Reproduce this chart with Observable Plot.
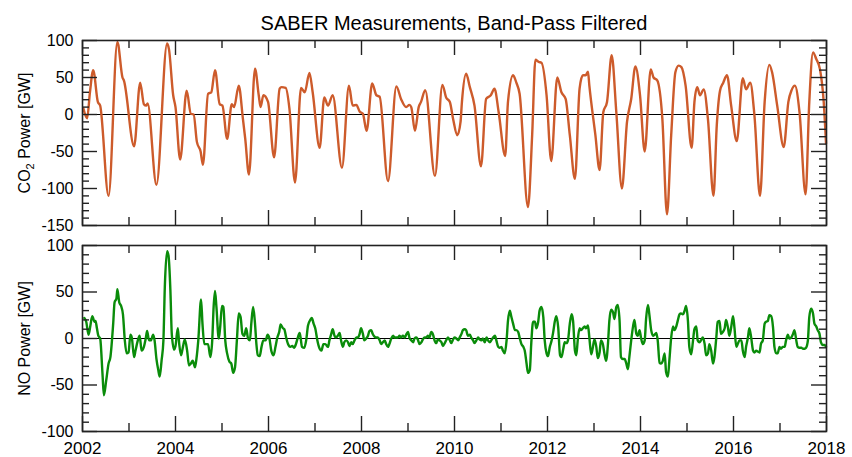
<!DOCTYPE html>
<html><head><meta charset="utf-8">
<script src="https://cdn.jsdelivr.net/npm/d3@7"></script>
<script src="https://cdn.jsdelivr.net/npm/@observablehq/plot@0.6"></script>
<style>
body{margin:0;background:#fff;font-family:"Liberation Sans",Arial,sans-serif;}
#wrap{position:relative;width:852px;height:457px;overflow:hidden;}
#title{position:absolute;left:82px;width:744px;top:13px;line-height:20px;text-align:center;font-size:20px;color:#000;}
#top{position:absolute;left:0;top:0;}
#bot{position:absolute;left:0;top:235px;}
</style></head>
<body><div id="wrap"><div id="top"></div><div id="bot"></div><div id="title">SABER Measurements, Band-Pass Filtered</div></div>
<script>
const co2Year = [2002.02,2002.10,2002.16,2002.23,2002.33,2002.38,2002.56,2002.75,2002.86,2002.89,2003.11,2003.24,2003.32,2003.37,2003.40,2003.59,2003.82,2003.86,2003.95,2004.00,2004.10,2004.24,2004.33,2004.39,2004.46,2004.54,2004.59,2004.70,2004.77,2004.85,2004.95,2005.01,2005.11,2005.21,2005.26,2005.36,2005.45,2005.50,2005.58,2005.71,2005.79,2005.83,2005.89,2005.99,2006.12,2006.24,2006.28,2006.37,2006.45,2006.57,2006.70,2006.78,2006.88,2006.95,2007.10,2007.20,2007.28,
2007.38,2007.58,2007.73,2007.81,2007.89,2007.96,2008.03,2008.11,2008.23,2008.32,2008.39,2008.57,2008.75,2008.85,2008.96,2009.03,2009.07,2009.15,2009.23,2009.28,2009.37,2009.58,2009.74,2009.82,2009.90,2009.97,2010.06,2010.13,2010.16,2010.25,2010.33,2010.43,2010.57,2010.68,2010.78,2010.86,2010.95,2011.09,2011.15,2011.26,2011.33,2011.40,2011.58,2011.67,2011.74,2011.81,2011.87,2011.98,2012.08,2012.21,2012.30,2012.39,2012.48,2012.59,
2012.69,2012.76,2012.82,2012.87,2012.90,2013.03,2013.12,2013.20,2013.28,2013.38,2013.48,2013.60,2013.71,2013.80,2013.89,2013.99,2014.09,2014.22,2014.28,2014.36,2014.47,2014.57,2014.66,2014.75,2014.82,2014.88,2014.97,2015.10,2015.16,2015.22,2015.28,2015.36,2015.45,2015.57,2015.64,2015.71,2015.78,2015.86,2015.95,2016.07,2016.20,2016.27,2016.36,2016.45,2016.57,2016.67,2016.77,2016.83,2016.94,2017.08,2017.18,2017.25,2017.32,2017.42,2017.55,2017.63,2017.71,2017.78,2017.86,2017.94,2017.99];
const co2Power = [8,-5,30,60,17,12,-110,98,50,46,-43,43,14,12,15,-95,96,88,26,10,-61,32,1,0,-37,-50,-68,28,30,60,14,12,-33,14,10,39,-6,-33,-81,62,26,10,26,17,-58,35,37,36,8,-92,36,30,56,30,-45,23,12,
26,-72,39,12,13,4,1,-22,42,26,24,-90,38,21,10,13,10,-22,10,17,33,-83,40,23,17,-6,-28,-10,17,55,37,12,-70,21,26,35,3,-56,17,53,43,28,-125,-28,74,71,70,26,-63,50,30,21,-28,-87,
35,53,53,58,39,-28,-75,3,17,80,3,-100,-10,21,65,26,-50,61,50,46,-6,-135,-28,57,66,64,39,-45,17,37,26,34,-6,-110,-15,32,43,53,12,-36,49,34,43,-1,-110,17,67,57,12,-44,17,33,39,3,-108,17,84,75,61,17,-39];

const noYear = [2002.04,2002.08,2002.13,2002.17,2002.21,2002.26,2002.28,2002.31,2002.34,2002.38,2002.43,2002.46,2002.51,2002.56,2002.60,2002.66,2002.69,2002.73,2002.75,2002.79,2002.83,2002.87,2002.91,2002.95,2002.99,2003.03,2003.06,2003.11,2003.14,2003.19,2003.23,2003.27,2003.32,2003.36,2003.39,2003.43,2003.47,2003.52,2003.55,2003.59,2003.63,2003.66,2003.70,2003.74,2003.77,2003.82,2003.85,2003.89,2003.92,2003.97,2004.00,2004.05,2004.08,2004.12,2004.16,2004.20,2004.25,2004.29,2004.33,2004.37,2004.42,2004.45,2004.49,2004.55,2004.58,2004.62,2004.66,2004.70,2004.75,2004.79,2004.82,2004.85,2004.88,2004.93,2004.96,2005.00,2005.03,2005.07,2005.11,2005.16,2005.20,2005.24,2005.28,2005.32,2005.36,2005.40,2005.44,2005.48,2005.52,2005.56,2005.60,2005.63,2005.67,2005.71,2005.74,2005.77,2005.81,2005.85,2005.89,2005.94,2005.98,2006.02,2006.06,2006.11,2006.15,2006.19,2006.23,2006.26,2006.31,2006.34,2006.38,2006.42,2006.47,2006.51,2006.55,2006.59,2006.63,2006.67,2006.69,2006.72,2006.77,2006.81,2006.85,2006.90,2006.93,2006.97,2007.01,2007.05,2007.10,2007.14,2007.18,2007.22,
2007.28,2007.31,2007.35,2007.38,2007.42,2007.45,2007.49,2007.53,2007.56,2007.60,2007.63,2007.67,2007.71,2007.74,2007.78,2007.81,2007.85,2007.89,2007.92,2007.96,2007.99,2008.03,2008.06,2008.10,2008.14,2008.17,2008.21,2008.24,2008.28,2008.32,2008.35,2008.39,2008.42,2008.46,2008.50,2008.53,2008.57,2008.60,2008.64,2008.68,2008.71,2008.75,2008.78,2008.82,2008.85,2008.89,2008.93,2008.96,2009.00,2009.03,2009.07,2009.11,2009.14,2009.18,2009.21,2009.25,2009.29,2009.32,2009.36,2009.39,2009.43,2009.46,2009.50,2009.54,2009.57,2009.61,2009.64,2009.68,2009.72,2009.75,2009.79,2009.82,2009.86,2009.90,2009.93,2009.97,2010.00,2010.04,2010.08,2010.11,2010.15,2010.18,2010.22,2010.25,2010.29,2010.33,2010.36,2010.40,2010.43,2010.47,2010.51,2010.54,2010.58,2010.61,2010.65,2010.69,2010.72,2010.76,2010.79,2010.83,2010.87,2010.90,2010.94,2010.97,2011.01,2011.04,2011.08,2011.12,2011.15,2011.19,2011.22,2011.26,2011.30,2011.33,2011.37,2011.40,2011.44,2011.48,2011.51,2011.55,2011.58,2011.62,2011.65,2011.69,2011.73,2011.76,2011.80,2011.83,2011.87,2011.91,2011.94,2011.98,2012.01,2012.05,2012.09,2012.12,2012.16,2012.19,2012.23,2012.27,2012.30,2012.34,2012.37,2012.41,2012.44,2012.48,2012.52,2012.55,2012.59,
2012.62,2012.65,2012.69,2012.72,2012.76,2012.80,2012.83,2012.87,2012.90,2012.94,2012.97,2013.01,2013.05,2013.08,2013.12,2013.15,2013.19,2013.23,2013.26,2013.30,2013.33,2013.37,2013.41,2013.44,2013.48,2013.51,2013.55,2013.58,2013.62,2013.66,2013.69,2013.73,2013.76,2013.80,2013.84,2013.87,2013.91,2013.94,2013.98,2014.01,2014.05,2014.09,2014.12,2014.16,2014.19,2014.23,2014.27,2014.30,2014.34,2014.37,2014.41,2014.44,2014.48,2014.52,2014.55,2014.59,2014.62,2014.66,2014.70,2014.73,2014.77,2014.80,2014.84,2014.87,2014.91,2014.95,2014.98,2015.02,2015.05,2015.09,2015.13,2015.16,2015.20,2015.23,2015.27,2015.30,2015.34,2015.38,2015.41,2015.45,2015.48,2015.52,2015.56,2015.59,2015.63,2015.66,2015.70,2015.73,2015.77,2015.81,2015.84,2015.88,2015.91,2015.95,2015.99,2016.02,2016.06,2016.09,2016.13,2016.17,2016.20,2016.24,2016.27,2016.31,2016.34,2016.38,2016.42,2016.45,2016.49,2016.52,2016.56,2016.59,2016.63,2016.67,2016.70,2016.74,2016.77,2016.81,2016.85,2016.88,2016.92,2016.95,2016.99,2017.02,2017.06,2017.10,2017.13,2017.17,2017.20,2017.24,2017.28,2017.31,2017.35,2017.38,2017.42,2017.46,2017.49,2017.53,2017.56,2017.60,2017.63,2017.67,2017.71,2017.74,2017.78,2017.81,2017.85,2017.88,2017.92,2017.96,2017.99];
const noPower = [22,18,4,14,24,18,19,11,3,0,-38,-61,-45,-27,-20,16,39,43,53,39,35,26,-2,-16,-15,4,1,-20,-13,-2,3,-13,-9,0,8,-2,-2,4,-2,-22,-34,-41,-24,-2,55,94,89,52,5,-12,-8,11,-6,-18,-9,-1,-13,-29,-27,-24,-31,-22,-2,42,16,-6,-6,-6,-20,-2,34,51,34,0,12,35,34,-2,-16,-25,-27,-37,-31,-2,27,23,5,3,11,0,-2,16,34,16,-6,-18,-19,-9,-2,-2,4,0,-13,-18,-9,1,7,15,11,10,1,-6,-9,-8,-10,-6,1,6,1,-9,-10,-2,14,20,22,16,10,-2,-11,-13,-6,-6,
-9,-2,5,10,3,1,3,6,-2,-9,-4,-2,-4,-8,-4,-6,-2,1,1,5,11,5,-2,0,3,8,9,5,2,1,1,-2,-6,-4,-2,-6,-9,-6,0,3,1,1,1,3,1,3,1,4,7,1,-2,-4,0,1,-1,-6,-4,-1,1,1,3,1,7,4,-2,-5,-1,-2,-4,-8,-5,-2,1,-2,-5,-1,1,0,-2,1,5,9,10,9,3,4,1,-2,-5,-2,1,-1,-2,0,-4,1,-2,-4,-2,1,3,-2,-9,-10,-9,-13,-16,-2,19,30,24,16,9,9,7,1,-6,-9,-13,-27,-37,-34,-6,18,18,11,18,30,34,23,-2,-16,-19,-9,-2,6,19,24,12,-18,-20,-11,-4,-5,-2,16,26,19,-13,
-18,-2,11,9,11,13,11,14,1,-17,-11,-1,-9,-21,-15,-2,-6,-18,-24,-6,19,31,28,21,34,36,19,-20,-22,-22,-26,-33,-20,-2,13,20,5,3,9,1,-6,-2,21,36,26,9,3,4,6,-2,-26,-27,-24,-16,-36,-41,-24,1,13,9,13,19,26,27,26,30,35,19,-9,-17,-2,10,13,-2,-4,-2,1,-6,-18,-16,-6,-13,-27,-20,1,18,19,5,7,11,20,12,3,12,24,12,-9,-6,-2,-2,-13,-20,-9,1,11,1,-13,-15,-13,-14,-15,-6,-2,16,18,19,25,24,12,-9,-16,-16,-9,-11,-9,-9,-2,4,0,1,5,9,-2,-9,-10,-10,-11,-11,-10,-2,23,32,27,16,13,9,5,-4,-7,-7,-9];

const xMajor = [2002,2004,2006,2008,2010,2012,2014,2016,2018];
const xMinor = [2003,2005,2007,2009,2011,2013,2015,2017];
const co2Ticks = [100,50,0,-50,-100,-150];
const noTicks = [100,50,0,-50,-100];

const FONT = "'Liberation Sans', Arial, sans-serif";

function panel({years, values, color, yDomain, yTicks, label, height, mt, mb, showX}) {
  const W = 852, ml = 82, mr = 26;
  const ph = height - mt - mb, pw = W - ml - mr;
  const data = years.map((x, i) => ({x, y: values[i]}));
  const yMinor = d3.range(yDomain[0], yDomain[1] + 1, 10).filter(v => v % 50 !== 0);
  const tk = {stroke: "#222", strokeWidth: 1.4};
  const marks = [
    Plot.ruleY([0], {stroke: "#000", strokeWidth: 1}),
    Plot.line(data, {x: "x", y: "y", stroke: color, strokeWidth: 2.4, curve: "monotone-x"}),
    Plot.tickX(xMajor, {x: d => d, insetTop: ph - 15, ...tk}),
    Plot.tickX(xMajor, {x: d => d, insetBottom: ph - 15, ...tk}),
    Plot.tickX(xMinor, {x: d => d, insetTop: ph - 8, ...tk}),
    Plot.tickX(xMinor, {x: d => d, insetBottom: ph - 8, ...tk}),
    Plot.tickY(yTicks, {y: d => d, insetRight: pw - 15, ...tk}),
    Plot.tickY(yTicks, {y: d => d, insetLeft: pw - 15, ...tk}),
    Plot.tickY(yMinor, {y: d => d, insetRight: pw - 7, ...tk}),
    Plot.tickY(yMinor, {y: d => d, insetLeft: pw - 7, ...tk}),
    Plot.frame({stroke: "#222", strokeWidth: 1.6}),
    Plot.axisY({ticks: yTicks, tickSize: 0, tickPadding: 9, tickFormat: d => String(d), fontSize: 16, label: null}),
    Plot.text([label], {frameAnchor: "left", text: d => d, rotate: -90, dx: -58, fontSize: 16, textAnchor: "middle", lineAnchor: "middle", fill: "#000"})
  ];
  if (showX) marks.push(Plot.axisX({ticks: xMajor, tickSize: 0, tickPadding: 10, tickFormat: d => String(d), fontSize: 17, label: null}));
  else marks.push(Plot.axisX({ticks: [], tickSize: 0, label: null}));
  const svg = Plot.plot({
    width: W, height, marginLeft: ml, marginRight: mr, marginTop: mt, marginBottom: mb,
    style: {fontFamily: FONT, background: "transparent", overflow: "visible", color: "#000"},
    x: {domain: [2002, 2018]},
    y: {domain: yDomain},
    marks
  });
  return svg;
}

const topSvg = panel({years: co2Year, values: co2Power, color: "#cd5b2b", yDomain: [-150, 100], yTicks: co2Ticks,
  label: "CO2 Power [GW]", height: 235, mt: 40, mb: 10, showX: false});
const botSvg = panel({years: noYear, values: noPower, color: "#0a8c0a", yDomain: [-100, 100], yTicks: noTicks,
  label: "NO Power [GW]", height: 222, mt: 10, mb: 26, showX: true});

// subscript in CO2 label
d3.select(topSvg).selectAll("text").filter(function() { return this.textContent === "CO2 Power [GW]"; }).each(function() {
  const t = d3.select(this);
  t.text(null);
  t.append("tspan").text("CO");
  t.append("tspan").attr("font-size", 11).attr("dy", 4).text("2");
  t.append("tspan").attr("dy", -4).text(" Power [GW]");
});

document.getElementById("top").appendChild(topSvg);
document.getElementById("bot").appendChild(botSvg);
</script>
</body></html>
